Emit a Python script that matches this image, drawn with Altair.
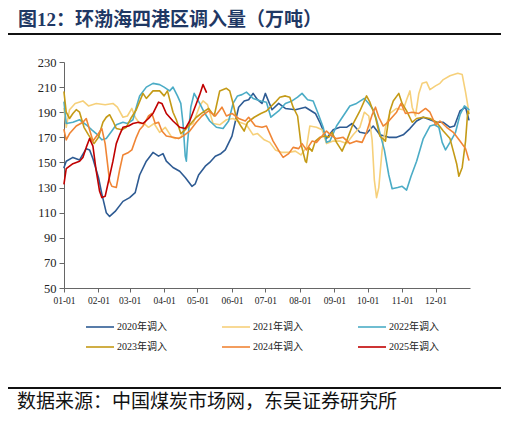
import json
import pandas as pd
import altair as alt

title_text = "图12：环渤海四港区调入量（万吨）"
source_text = "数据来源：中国煤炭市场网，东吴证券研究所"

series_names = ["2020年调入", "2021年调入", "2022年调入", "2023年调入", "2024年调入", "2025年调入"]
series_colors = ["#2E5B93", "#F6D07A", "#4BACC6", "#C49A16", "#F08535", "#C00000"]
series_widths = [1.6, 1.6, 1.6, 1.6, 4.5, 4.0]

month_days = [0, 31, 59, 90, 120, 151, 181, 212, 243, 273, 304, 334]
month_labels = ["01-01", "02-01", "03-01", "04-01", "05-01", "06-01",
                "07-01", "08-01", "09-01", "10-01", "11-01", "12-01"]
y_ticks = [50, 70, 90, 110, 130, 150, 170, 190, 210, 230]

# day-of-year offsets and values (万吨)
d2020 = [0,2,8,14,20,23,26,31,34,38,41,46,53,59,64,68,74,80,85,89,92,98,104,109,115,118,121,127,131,136,
         141,145,151,157,162,166,170,174,178,181,187,193,199,208,217,226,230,236,242,248,254,259,266,272,278,
         284,292,299,305,311,317,323,329,335,341,347,351,356,361,364]
v2020 = [146,151,154,152,161,160,153,138,125,110,107,111,119,122,126,140,151,158,155,157,151,146,143,138,131,
         133,140,147,150,155,157,160,171,194,199,200,205,200,197,205,192,197,193,192,194,189,182,169,176,178,
         178,181,174,173,179,172,170,170,172,177,183,186,184,182,182,178,179,191,194,184]

d2021 = [0,2,5,10,17,22,29,37,44,48,53,57,61,64,68,72,76,81,86,91,97,100,105,110,116,122,125,129,134,140,
         146,152,158,164,170,174,180,185,190,196,202,208,213,218,221,227,232,236,242,248,254,260,266,270,274,
         277,279,281,283,286,289,293,299,305,308,311,313,316,319,322,326,329,334,338,341,347,354,358,361,364]
v2021 = [193,178,192,197,199,195,197,196,197,194,186,187,193,186,181,181,178,181,174,178,170,169,170,178,181,
         195,199,196,181,180,184,185,182,180,172,173,168,166,160,158,158,159,156,162,179,178,176,165,167,167,
         165,172,178,190,187,168,136,122,130,160,178,189,193,192,200,207,194,187,205,213,214,208,211,213,216,
         219,221,220,206,190]

d2022 = [0,2,8,14,20,25,29,34,38,43,47,53,57,62,65,68,74,80,86,90,95,98,102,105,107,109,110,111,114,117,
         122,126,131,137,143,148,152,156,160,164,170,177,182,186,193,199,205,210,214,219,224,228,233,236,239,
         245,251,257,263,270,274,278,281,285,288,292,295,300,304,308,312,317,323,329,333,337,340,343,347,352,
         356,360,364]
v2022 = [198,181,182,184,180,176,173,168,169,175,180,182,181,184,194,203,210,213,212,210,207,210,203,197,181,
         155,151,165,194,205,197,190,183,178,177,183,197,203,204,206,201,199,198,186,191,197,199,202,205,200,
         199,190,178,166,167,179,187,195,197,201,197,192,184,170,160,140,129,130,131,128,139,151,169,179,180,
         178,166,160,166,174,188,195,192]

d2023 = [0,2,5,8,11,14,18,22,27,31,35,38,41,44,47,52,56,60,65,71,74,80,86,90,93,98,101,105,110,114,
         119,125,130,135,140,146,149,152,155,159,162,165,171,177,182,190,194,199,203,206,210,213,217,218,220,
         223,226,230,235,238,241,245,250,254,260,266,272,275,280,284,289,293,296,301,304,308,313,317,323,329,
         335,341,347,350,353,355,358,361,363,364]
v2023 = [206,190,185,189,192,190,178,172,165,170,182,186,188,183,177,176,178,185,192,205,201,207,207,203,207,
         190,184,173,177,181,186,190,193,187,207,209,207,197,185,179,175,182,186,189,191,198,202,203,202,194,
         187,165,151,150,162,159,167,170,171,170,174,166,159,167,181,191,203,198,186,171,167,191,199,205,197,
         191,182,185,186,185,182,175,169,159,149,139,146,167,191,189]

d2024 = [0,2,5,11,17,20,26,31,34,37,41,43,47,50,53,58,61,65,68,71,76,79,82,85,88,92,98,103,107,113,
         119,124,130,136,142,146,151,157,163,166,172,178,182,188,194,197,202,206,211,214,218,223,227,232,236,
         241,245,251,257,263,268,272,277,280,283,287,291,295,299,303,307,313,319,325,329,334,338,344,350,356,
         361,364]
v2024 = [176,168,173,179,182,185,167,173,177,165,135,131,130,144,156,158,160,170,176,179,187,189,181,182,175,
         171,170,169,171,175,182,187,191,187,194,187,189,185,183,186,179,178,179,167,158,154,157,162,161,165,
         160,167,166,171,175,171,169,170,165,167,166,174,188,194,186,179,182,186,190,197,189,190,189,193,190,
         180,183,178,174,167,161,152]

d2025 = [0,2,5,8,14,17,20,23,26,29,32,34,37,40,44,47,50,53,58,62,67,71,76,80,85,88,92,98,104,109,
         113,119,122,125,128]
v2025 = [133,145,147,149,151,154,162,169,163,143,127,122,123,135,151,165,172,178,179,181,182,181,185,189,198,
         197,189,183,178,177,183,197,204,212,206]

all_days = [d2020, d2021, d2022, d2023, d2024, d2025]
all_vals = [v2020, v2021, v2022, v2023, v2024, v2025]

rows = []
for name, days, vals in zip(series_names, all_days, all_vals):
    for d, v in zip(days, vals):
        rows.append({"series": name, "day": d, "value": v})
df = pd.DataFrame(rows)

label_map = {str(d): lab for d, lab in zip(month_days, month_labels)}
label_expr = json.dumps(label_map) + "[toString(datum.value)]"

legend = alt.Legend(
    orient="none", legendX=21, legendY=250, columns=3, direction="horizontal",
    title=None, symbolType="stroke", symbolSize=784, labelFont="Liberation Serif, Noto Sans CJK SC",
    labelFontSize=10, labelColor="#222222", columnPadding=51, rowPadding=0, labelOffset=2,
)

lines = alt.Chart(df).mark_line(strokeJoin="round", strokeCap="round").encode(
    x=alt.X("day:Q", scale=alt.Scale(domain=[0, 365], nice=False, zero=False),
            axis=alt.Axis(values=month_days, labelExpr=label_expr, title=None, grid=False,
                          tickSize=4, labelFontSize=9.5, labelFont="Liberation Serif",
                          labelColor="#222222", labelPadding=3, domainColor="#666666",
                          tickColor="#666666", labelAngle=0, labelOverlap=False, labelFlush=False)),
    y=alt.Y("value:Q", scale=alt.Scale(domain=[50, 230], nice=False, zero=False),
            axis=alt.Axis(values=y_ticks, title=None, grid=False, tickSize=5, labelFontSize=12.5,
                          labelFont="Liberation Serif", labelColor="#222222", labelPadding=3,
                          domainColor="#666666", tickColor="#666666", labelFlush=False)),
    color=alt.Color("series:N", scale=alt.Scale(domain=series_names, range=series_colors), legend=legend),
    strokeWidth=alt.StrokeWidth("series:N", scale=alt.Scale(domain=series_names, range=series_widths),
                                legend=legend),
)

title_mark = alt.Chart(pd.DataFrame({"t": [title_text]})).mark_text(
    align="left", baseline="alphabetic", font="Liberation Serif, Noto Sans CJK SC", fontSize=19,
    fontWeight="bold", color="#1F3864").encode(x=alt.value(-46), y=alt.value(-36), text="t:N")

source_mark = alt.Chart(pd.DataFrame({"t": [source_text]})).mark_text(
    align="left", baseline="alphabetic", font="Liberation Serif, Noto Sans CJK SC", fontSize=19,
    color="#111111").encode(x=alt.value(-47), y=alt.value(346), text="t:N")

top_rule = alt.Chart(pd.DataFrame({"a": [0]})).mark_rule(color="#111111", strokeWidth=2).encode(
    x=alt.value(-59), x2=alt.value(439), y=alt.value(-28))
bottom_rule = alt.Chart(pd.DataFrame({"a": [0]})).mark_rule(color="#111111", strokeWidth=2).encode(
    x=alt.value(-59), x2=alt.value(439), y=alt.value(326))

chart = alt.layer(lines, title_mark, source_mark, top_rule, bottom_rule).properties(
    width=406, height=226,
    autosize=alt.AutoSizeParams(type="none"),
    padding={"left": 56, "top": 54, "right": 31, "bottom": 125},
    background="white",
).configure_view(stroke=None)

chart.save("out.html", embed_options={"renderer": "svg", "actions": False})
